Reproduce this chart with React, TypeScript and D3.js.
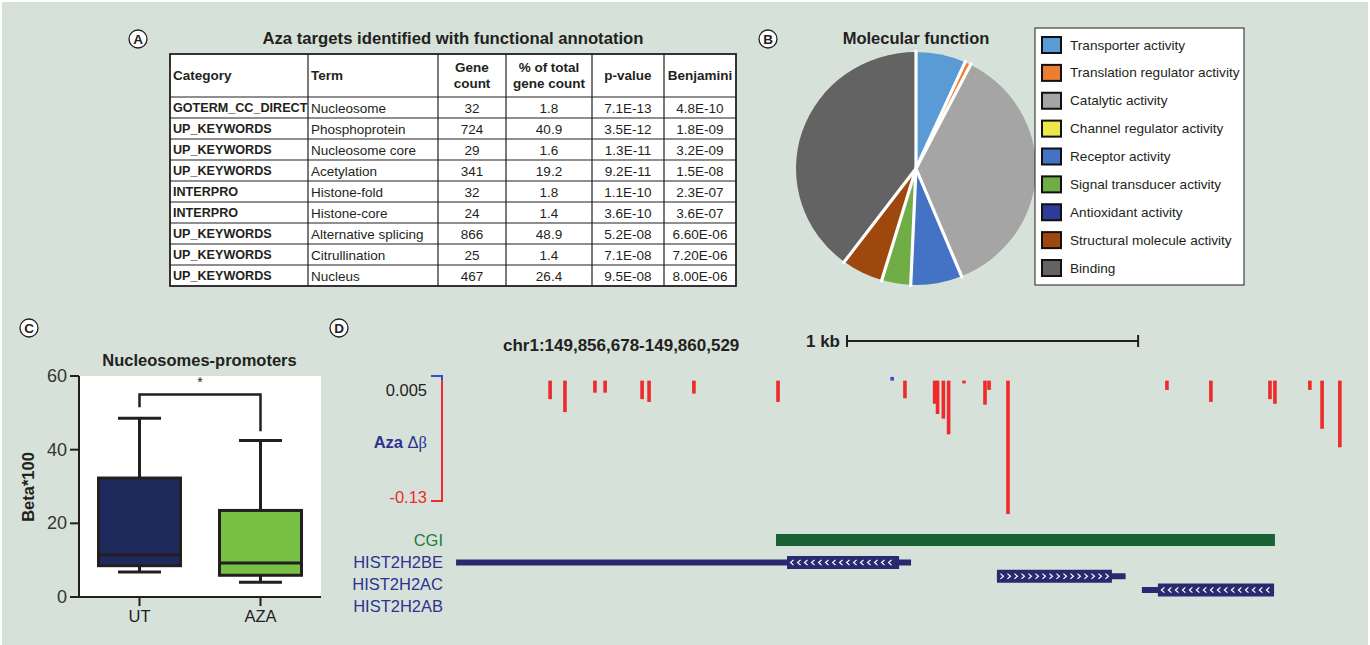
import React from 'react';
import * as d3 from 'd3';

const W = 1370;
const H = 645;
const BG = '#d6e2d9';
const INK = '#231f20';
const FONT = '"Liberation Sans", Arial, Helvetica, sans-serif';

// ---------- Panel A: functional annotation table ----------
const tableTitle = 'Aza targets identified with functional annotation';
const tableHeaders = [['Category'], ['Term'], ['Gene', 'count'], ['% of total', 'gene count'], ['p-value'], ['Benjamini']];
const categories = [
  'GOTERM_CC_DIRECT', 'UP_KEYWORDS', 'UP_KEYWORDS', 'UP_KEYWORDS', 'INTERPRO',
  'INTERPRO', 'UP_KEYWORDS', 'UP_KEYWORDS', 'UP_KEYWORDS',
];
const terms = [
  'Nucleosome', 'Phosphoprotein', 'Nucleosome core', 'Acetylation', 'Histone-fold',
  'Histone-core', 'Alternative splicing', 'Citrullination', 'Nucleus',
];
const geneCounts = [32, 724, 29, 341, 32, 24, 866, 25, 467];
const pctOfTotal = ['1.8', '40.9', '1.6', '19.2', '1.8', '1.4', '48.9', '1.4', '26.4'];
const pValues = ['7.1E-13', '3.5E-12', '1.3E-11', '9.2E-11', '1.1E-10', '3.6E-10', '5.2E-08', '7.1E-08', '9.5E-08'];
const benjamini = ['4.8E-10', '1.8E-09', '3.2E-09', '1.5E-08', '2.3E-07', '3.6E-07', '6.60E-06', '7.20E-06', '8.00E-06'];

// ---------- Panel B: molecular function pie ----------
const mfLabels = [
  'Transporter activity', 'Translation regulator activity', 'Catalytic activity',
  'Channel regulator activity', 'Receptor activity', 'Signal transducer activity',
  'Antioxidant activity', 'Structural molecule activity', 'Binding',
];
const mfValues = [6.7, 0.8, 36.3, 0, 6.9, 3.9, 0, 5.6, 39.8];
const mfColors = ['#5b9bd5', '#ed7d31', '#a5a5a5', '#ebe84a', '#4472c4', '#70ad47', '#2b3d99', '#9e480e', '#636363'];

// ---------- Panel C: box plot ----------
const boxGroups = ['UT', 'AZA'];
const boxColors = ['#1f2a5c', '#76c043'];
const whiskerLow = [6.8, 4.0];
const quartile1 = [8.5, 5.9];
const medians = [11.5, 9.2];
const quartile3 = [32.3, 23.5];
const whiskerHigh = [48.5, 42.5];
const sigBracket = [51.5, 55, 45]; // left leg end, bar level, right leg end
const sigStarLevel = 58.3;

// ---------- Panel D: genome browser view ----------
const regionStart = 149856678;
const regionEnd = 149860529;
const regionLabel = 'chr1:149,856,678-149,860,529';
const scaleBarStart = 2075; // bp offset from region start
const scaleBarLength = 1000;
const probeOffsets = [
  1055, 1106, 1209, 1244, 1371, 1395, 1549, 1838, 2230, 2274, 2376, 2386, 2406,
  2424, 2477, 2549, 2563, 2628, 3174, 3325, 3528, 3545, 3665, 3707, 3768,
];
const probeDelta = [
  -0.020, -0.034, -0.013, -0.013, -0.020, -0.023, -0.014, -0.023, 0.004, -0.019, -0.025, -0.036, -0.041,
  -0.058, -0.003, -0.026, -0.010, -0.144, -0.010, -0.023, -0.020, -0.025, -0.010, -0.052, -0.072,
];
const cgiStart = 1831;
const cgiEnd = 3545;
const geneNames = ['HIST2H2BE', 'HIST2H2AC', 'HIST2H2AB'];
const geneTxStart = [732, 2590, 3088];
const geneTxEnd = [2295, 3032, 3542];
const geneCdsStart = [1869, 2590, 3143];
const geneCdsEnd = [2254, 2985, 3542];
const geneStrand = ['-', '+', '-'];
const trackLabels = ['CGI', ...geneNames];

function PanelLabel({ x, y, letter }: { x: number; y: number; letter: string }) {
  return (
    <g>
      <circle cx={x} cy={y} r={9} fill="#fff" stroke={INK} strokeWidth={1.3} />
      <text x={x} y={y + 0.5} textAnchor="middle" dominantBaseline="central" fontSize={13.5} fontWeight="bold" fill={INK}>
        {letter}
      </text>
    </g>
  );
}

function PanelA() {
  const colEdges = [170, 308, 438, 506, 592, 664, 736];
  const top = 54;
  const headBottom = 97;
  const rowH = 21;
  const rowTop = (i: number) => headBottom + i * rowH;
  const bottom = rowTop(categories.length);
  const rows = categories.map((c, i) => [c, terms[i], String(geneCounts[i]), pctOfTotal[i], pValues[i], benjamini[i]]);
  const colMid = (j: number) => (colEdges[j] + colEdges[j + 1]) / 2;
  return (
    <g>
      <PanelLabel x={138} y={39} letter="A" />
      <text x={453} y={38} textAnchor="middle" dominantBaseline="central" fontSize={16.7} fontWeight="bold" fill={INK}>
        {tableTitle}
      </text>
      <rect x={colEdges[0]} y={top} width={colEdges[6] - colEdges[0]} height={bottom - top} fill="#fff" />
      {/* header */}
      {tableHeaders.map((lines, j) => {
        const left = j < 2;
        const tx = left ? colEdges[j] + 3 : colMid(j);
        const cy = (top + headBottom) / 2;
        return (
          <text key={j} x={tx} textAnchor={left ? 'start' : 'middle'} fontSize={13.5} fontWeight="bold" fill={INK}>
            {lines.map((ln, k) => (
              <tspan key={k} x={tx} y={cy + (k - (lines.length - 1) / 2) * 16} dominantBaseline="central">
                {ln}
              </tspan>
            ))}
          </text>
        );
      })}
      {/* body */}
      {rows.map((r, i) =>
        r.map((v, j) => {
          const left = j < 2;
          return (
            <text
              key={`${i}-${j}`}
              x={left ? colEdges[j] + 3 : colMid(j)}
              y={rowTop(i) + rowH / 2 + 0.5}
              textAnchor={left ? 'start' : 'middle'}
              dominantBaseline="central"
              fontSize={j === 0 ? 12.6 : 13.5}
              fontWeight={j === 0 ? 'bold' : 'normal'}
              fill={INK}
            >
              {v}
            </text>
          );
        }),
      )}
      {/* grid */}
      {d3.range(categories.length).map((i) => (
        <line key={i} x1={colEdges[0]} x2={colEdges[6]} y1={rowTop(i)} y2={rowTop(i)} stroke={INK} strokeWidth={1.2} />
      ))}
      {colEdges.slice(1, -1).map((x, j) => (
        <line key={j} x1={x} x2={x} y1={top} y2={bottom} stroke={INK} strokeWidth={1.2} />
      ))}
      <rect x={colEdges[0]} y={top} width={colEdges[6] - colEdges[0]} height={bottom - top} fill="none" stroke={INK} strokeWidth={1.8} />
    </g>
  );
}

function PanelB() {
  const radius = 120;
  const pie = d3.pie<number>().sort(null).value((d) => d)(mfValues);
  const arc = d3.arc<d3.PieArcDatum<number>>().innerRadius(0).outerRadius(radius);
  const legendY = d3.scalePoint<string>().domain(mfLabels).range([45, 268]);
  const shown = pie.filter((p) => p.value > 0);
  return (
    <g>
      <PanelLabel x={768} y={39} letter="B" />
      <text x={916} y={38} textAnchor="middle" dominantBaseline="central" fontSize={16.5} fontWeight="bold" fill={INK}>
        Molecular function
      </text>
      <g transform="translate(916,168.5) scale(1,0.97)">
        {pie.map((p, i) =>
          p.value > 0 ? <path key={i} d={arc(p) || ''} fill={mfColors[i]} /> : null,
        )}
        {/* white separators between slices */}
        {shown.map((p, i) => (
          <line
            key={i}
            x1={0}
            y1={0}
            x2={Math.sin(p.startAngle) * (radius + 1)}
            y2={-Math.cos(p.startAngle) * (radius + 1)}
            stroke="#fff"
            strokeWidth={3.2}
            strokeLinecap="round"
          />
        ))}
      </g>
      <rect x={1035} y={28} width={209} height={257} fill="#fff" stroke={INK} strokeWidth={1} />
      {mfLabels.map((lab, i) => {
        const cy = legendY(lab) as number;
        return (
          <g key={lab}>
            <rect x={1042} y={cy - 8} width={19} height={16} fill={mfColors[i]} stroke="#111" strokeWidth={2} />
            <text x={1070} y={cy} dominantBaseline="central" fontSize={13.6} fill={INK}>
              {lab}
            </text>
          </g>
        );
      })}
    </g>
  );
}

function PanelC() {
  const left = 79;
  const right = 321;
  const y = d3.scaleLinear().domain([0, 60]).range([597, 376]);
  const x = d3.scalePoint<string>().domain(boxGroups).range([left, right]).padding(0.5);
  const boxW = 82;
  const capW = 43;
  const sw = 3;
  return (
    <g>
      <PanelLabel x={29} y={328} letter="C" />
      <text x={199.5} y={360} textAnchor="middle" dominantBaseline="central" fontSize={16.5} fontWeight="bold" fill={INK}>
        Nucleosomes-promoters
      </text>
      <rect x={left} y={y(60)} width={right - left} height={y(0) - y(60)} fill="#fff" />
      {/* significance bracket */}
      <path
        d={`M${x('UT')},${y(sigBracket[0])}V${y(sigBracket[1])}H${x('AZA')}V${y(sigBracket[2])}`}
        fill="none"
        stroke={INK}
        strokeWidth={2.5}
      />
      <text x={((x('UT') as number) + (x('AZA') as number)) / 2} y={y(sigStarLevel)} textAnchor="middle" dominantBaseline="central" fontSize={14} fill={INK}>
        *
      </text>
      {boxGroups.map((g, i) => {
        const cx = x(g) as number;
        return (
          <g key={g}>
            <line x1={cx} x2={cx} y1={y(quartile3[i])} y2={y(whiskerHigh[i])} stroke={INK} strokeWidth={sw} />
            <line x1={cx} x2={cx} y1={y(quartile1[i])} y2={y(whiskerLow[i])} stroke={INK} strokeWidth={sw} />
            <line x1={cx - capW / 2} x2={cx + capW / 2} y1={y(whiskerHigh[i])} y2={y(whiskerHigh[i])} stroke={INK} strokeWidth={sw} />
            <line x1={cx - capW / 2} x2={cx + capW / 2} y1={y(whiskerLow[i])} y2={y(whiskerLow[i])} stroke={INK} strokeWidth={sw} />
            <rect
              x={cx - boxW / 2}
              y={y(quartile3[i])}
              width={boxW}
              height={y(quartile1[i]) - y(quartile3[i])}
              fill={boxColors[i]}
              stroke={INK}
              strokeWidth={sw}
            />
            <line x1={cx - boxW / 2} x2={cx + boxW / 2} y1={y(medians[i])} y2={y(medians[i])} stroke={INK} strokeWidth={sw} />
            <line x1={cx} x2={cx} y1={y(0)} y2={y(0) + 9} stroke={INK} strokeWidth={2} />
            <text x={cx} y={616} textAnchor="middle" dominantBaseline="central" fontSize={16.5} fill={INK}>
              {g}
            </text>
          </g>
        );
      })}
      {/* axes */}
      <line x1={left} x2={left} y1={y(60)} y2={y(0)} stroke={INK} strokeWidth={2} />
      <line x1={left} x2={right} y1={y(0)} y2={y(0)} stroke={INK} strokeWidth={2} />
      {y.ticks(3).map((t) => (
        <g key={t}>
          <line x1={left - 9} x2={left} y1={y(t)} y2={y(t)} stroke={INK} strokeWidth={2} />
          <text x={67} y={y(t)} textAnchor="end" dominantBaseline="central" fontSize={18} fill="#333">
            {t}
          </text>
        </g>
      ))}
      <text transform="translate(28,487) rotate(-90)" textAnchor="middle" dominantBaseline="central" fontSize={16.5} fontWeight="bold" fill={INK}>
        Beta*100
      </text>
    </g>
  );
}

function Chevrons({ x0, x1, cy, dir }: { x0: number; x1: number; cy: number; dir: number }) {
  const pts = d3.range(x0 + 5, x1 - 3, 7);
  return (
    <g>
      {pts.map((px, k) => (
        <path
          key={k}
          d={`M${px + 1.5 * dir},${cy - 2.6}L${px - 1.5 * dir},${cy}L${px + 1.5 * dir},${cy + 2.6}`}
          fill="none"
          stroke="#fff"
          strokeWidth={1.2}
        />
      ))}
    </g>
  );
}

function PanelD() {
  const regionLen = regionEnd - regionStart;
  const xg = d3.scaleLinear().domain([0, regionLen]).range([243, 1364]);
  const yd = d3.scaleLinear().domain([0.005, -0.13]).range([376, 501]);
  const y0 = yd(0);
  const labelY = d3.scalePoint<string>().domain(trackLabels).range([540, 606]);
  const geneY = d3.scalePoint<string>().domain(geneNames).range([562.5, 590]);
  const navy = '#272a6e';
  const axisX = 442;
  return (
    <g>
      <PanelLabel x={339} y={328} letter="D" />
      <text x={503} y={345} dominantBaseline="central" fontSize={17} fontWeight="bold" fill={INK}>
        {regionLabel}
      </text>
      {/* scale bar */}
      <text x={840} y={341} textAnchor="end" dominantBaseline="central" fontSize={17} fontWeight="bold" fill={INK}>
        1 kb
      </text>
      <g stroke={INK} strokeWidth={2}>
        <line x1={xg(scaleBarStart)} x2={xg(scaleBarStart + scaleBarLength)} y1={341} y2={341} />
        <line x1={xg(scaleBarStart)} x2={xg(scaleBarStart)} y1={335} y2={347} />
        <line x1={xg(scaleBarStart + scaleBarLength)} x2={xg(scaleBarStart + scaleBarLength)} y1={335} y2={347} />
      </g>
      {/* data axis bracket */}
      <line x1={axisX} x2={axisX} y1={yd(0.005)} y2={y0} stroke="#3b4cc0" strokeWidth={2} />
      <line x1={axisX} x2={axisX} y1={y0} y2={yd(-0.13)} stroke="#ee2a2a" strokeWidth={2} />
      <line x1={axisX - 11} x2={axisX + 1} y1={yd(0.005)} y2={yd(0.005)} stroke="#3b4cc0" strokeWidth={2} />
      <line x1={axisX - 11} x2={axisX + 1} y1={yd(-0.13)} y2={yd(-0.13)} stroke="#ee2a2a" strokeWidth={2} />
      <text x={427} y={yd(0.005) + 14} textAnchor="end" dominantBaseline="central" fontSize={16.5} fill={INK}>
        0.005
      </text>
      <text x={427} y={yd(-0.13) - 4} textAnchor="end" dominantBaseline="central" fontSize={16.5} fill="#ee2a2a">
        -0.13
      </text>
      <text x={427} y={442} textAnchor="end" dominantBaseline="central" fontSize={16.5} fill="#2e3192">
        <tspan fontWeight="bold">Aza </tspan>
        <tspan>Δ</tspan>
        <tspan fontFamily='"Liberation Serif", "DejaVu Serif", serif'>β</tspan>
      </text>
      {/* methylation change per probe */}
      {probeOffsets.map((p, i) => {
        const v = probeDelta[i];
        const yv = yd(v);
        const h = Math.max(Math.abs(yv - y0), 2.8);
        return (
          <rect
            key={i}
            x={xg(p) - 1.8}
            y={v >= 0 ? y0 - h : y0}
            width={3.6}
            height={h}
            fill={v >= 0 ? '#3b4cc0' : '#ee2a2a'}
          />
        );
      })}
      {/* track labels */}
      {trackLabels.map((t, i) => (
        <text key={t} x={443} y={labelY(t)} textAnchor="end" dominantBaseline="central" fontSize={16.5} fill={i === 0 ? '#1e7b3c' : '#2e3192'}>
          {t}
        </text>
      ))}
      {/* CpG island */}
      <rect x={xg(cgiStart)} y={534} width={xg(cgiEnd) - xg(cgiStart)} height={12} fill="#176135" />
      {/* genes */}
      {geneNames.map((g, i) => {
        const cy = geneY(g) as number;
        const a = xg(geneTxStart[i]);
        const b = xg(geneTxEnd[i]);
        const ca = xg(geneCdsStart[i]);
        const cb = xg(geneCdsEnd[i]);
        return (
          <g key={g}>
            <rect x={a} y={cy - 3} width={b - a} height={6} fill={navy} />
            <rect x={ca} y={cy - 6.5} width={cb - ca} height={13} fill={navy} />
            <Chevrons x0={ca} x1={cb} cy={cy} dir={geneStrand[i] === '-' ? 1 : -1} />
          </g>
        );
      })}
    </g>
  );
}

export default function App() {
  return (
    <svg
      width={W}
      height={H}
      viewBox={`0 0 ${W} ${H}`}
      style={{ position: 'absolute', left: 0, top: 0, display: 'block' }}
      fontFamily={FONT}
    >
      <rect x={0} y={0} width={W} height={H} fill="#fff" />
      <rect x={2} y={2} width={W - 4} height={H - 2} fill={BG} />
      <PanelA />
      <PanelB />
      <PanelC />
      <PanelD />
    </svg>
  );
}
